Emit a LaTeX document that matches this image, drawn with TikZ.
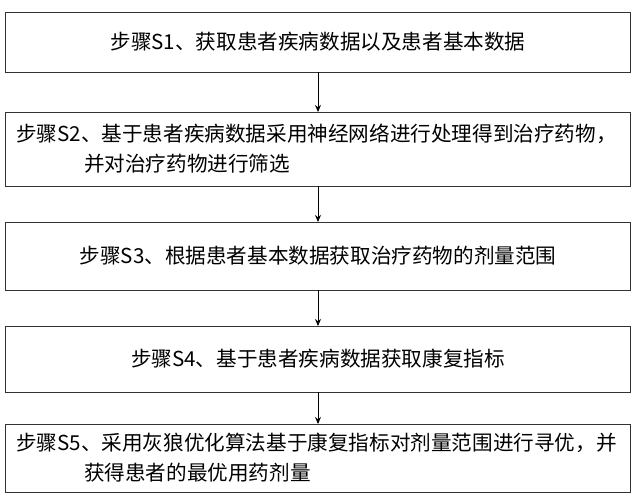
\documentclass[tikz,border=0pt]{standalone}
\usepackage{fontspec}
\newfontfamily\cjk{Noto Sans CJK SC}
\usetikzlibrary{arrows.meta}
\begin{document}
\begin{tikzpicture}[x=1pt,y=-1pt,
  box/.style={draw=black!80,line width=0.9pt},
  txt/.style={font=\cjk\fontsize{20.6}{30}\selectfont,inner sep=0pt},
  arr/.style={-{Stealth[length=7pt,width=6pt]},line width=0.9pt}]
\useasboundingbox (0,0) rectangle (635,500);
\draw[box] (5,12) rectangle (630,72);
\draw[box] (5,112) rectangle (630,186);
\draw[box] (5,222) rectangle (630,290);
\draw[box] (5,326) rectangle (630,392);
\draw[box] (5,424) rectangle (630,492);
\coordinate (b1) at (318,72); \coordinate (t2) at (318,112);
\coordinate (b2) at (318,186); \coordinate (t3) at (318,222);
\coordinate (b3) at (318,290); \coordinate (t4) at (318,326);
\coordinate (b4) at (318,392); \coordinate (t5) at (318,424);
\node[txt] (n1) at (318,42) {步骤S1、获取患者疾病数据以及患者基本数据};
\node[txt,anchor=west,align=left] (n2) at (16,149) {步骤S2、基于患者疾病数据采用神经网络进行处理得到治疗药物，\\\hspace{3.3em}并对治疗药物进行筛选};
\node[txt] (n3) at (318,256) {步骤S3、根据患者基本数据获取治疗药物的剂量范围};
\node[txt] (n4) at (318,359) {步骤S4、基于患者疾病数据获取康复指标};
\node[txt,anchor=west,align=left] (n5) at (16,458) {步骤S5、采用灰狼优化算法基于康复指标对剂量范围进行寻优，并\\\hspace{3.3em}获得患者的最优用药剂量};
\draw[arr] (b1) -- (t2);
\draw[arr] (b2) -- (t3);
\draw[arr] (b3) -- (t4);
\draw[arr] (b4) -- (t5);
\end{tikzpicture}
\end{document}
